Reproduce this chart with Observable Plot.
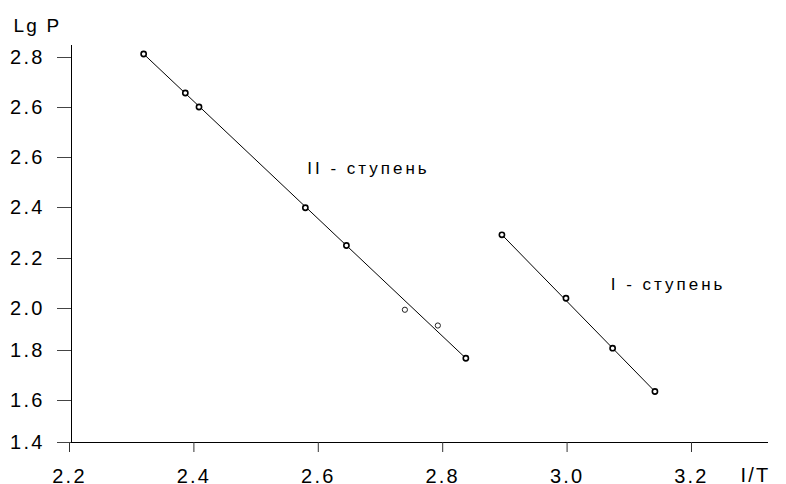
<!DOCTYPE html>
<html><head><meta charset="utf-8">
<script src="https://cdn.jsdelivr.net/npm/d3@7"></script>
<script src="https://cdn.jsdelivr.net/npm/@observablehq/plot@0.6"></script>
<style>
html,body{margin:0;padding:0;background:#fff;}
#chart svg{display:block;}
</style></head><body><div id="chart"></div>
<script>
// Stage II (II - ступень)
const stage2X = [2.316, 2.383, 2.405, 2.576, 2.642, 2.736, 2.789, 2.834];
const stage2Y = [2.807, 2.729, 2.701, 2.399, 2.251, 1.994, 1.919, 1.769];
const stage2OnLine = [true, true, true, true, true, false, false, true];
// Stage I (I - ступень)
const stage1X = [2.892, 2.995, 3.070, 3.138];
const stage1Y = [2.293, 2.041, 1.811, 1.636];
const stage1OnLine = [true, true, true, true];
// Axes
const xTicks = [2.2, 2.4, 2.6, 2.8, 3.0, 3.2];
const xTickLabels = ["2.2", "2.4", "2.6", "2.8", "3.0", "3.2"];
const yTicks = [1.4, 1.6, 1.8, 2.0, 2.2, 2.4, 2.6, 2.7, 2.8];
const yTickLabels = ["1.4", "1.6", "1.8", "2.0", "2.2", "2.4", "2.6", "2.6", "2.8"];
// the hand-drawn y axis is unevenly spaced: drawn height of each tick above the x axis
const yTickDrawn = [0, 42, 92, 134, 184, 235, 285, 335, 385];
const yAxisTitle = "Lg P";
const xAxisTitle = "I/T";
// Annotations
const noteText = ["II - ступень", "I - ступень"];
const noteX = [2.579, 3.067];
const noteY = [2.556, 2.095];

const stage2 = stage2X.map((x, i) => ({x, y: stage2Y[i], onLine: stage2OnLine[i]}));
const stage1 = stage1X.map((x, i) => ({x, y: stage1Y[i], onLine: stage1OnLine[i]}));
const fit2 = [stage2[0], stage2[stage2.length - 1]];
const fit1 = [stage1[0], stage1[stage1.length - 1]];
const notes = noteText.map((t, i) => ({t, x: noteX[i], y: noteY[i]}));
const allPts = stage2.concat(stage1);

const W = 786, H = 484;
const plotTop = 45, plotBottom = 442;
const axisLen = plotBottom - plotTop;
// piecewise mapping of Lg P onto the uneven axis
const yPiece = d3.scaleLinear().domain(yTicks).range(yTickDrawn);
const yTickPos = yTicks.map(yPiece);

const chart = Plot.plot({
  width: W, height: H,
  marginLeft: 71, marginRight: 18, marginTop: plotTop, marginBottom: H - plotBottom,
  style: {fontFamily: "'Liberation Sans', Arial, sans-serif", color: "black", background: "white"},
  x: {domain: [2.2, 3.3206]},
  y: {type: "linear", transform: v => yPiece(v), domain: [0, axisLen]},
  marks: [
    Plot.ruleX([2.2], {stroke: "black", strokeWidth: 1}),
    Plot.ruleY([1.4], {stroke: "black", strokeWidth: 1}),
    Plot.axisX({ticks: xTicks, tickSize: 10, tickPadding: 16, fontSize: 20, label: null,
      stroke: "#333", tickFormat: d => xTickLabels[xTicks.indexOf(d)], dx: -2}),
    Plot.axisY({ticks: yTickPos, tickSize: 14, tickPadding: 13, fontSize: 20, label: null,
      stroke: "#444", tickFormat: d => yTickLabels[yTickPos.indexOf(d)]}),
    Plot.text([yAxisTitle], {frameAnchor: "top-left", textAnchor: "start", lineAnchor: "middle",
      dx: -58, dy: -19.5, fontSize: 19, fill: "black"}),
    Plot.text([xAxisTitle], {frameAnchor: "bottom-right", textAnchor: "end", lineAnchor: "top",
      dx: 2, dy: 25, fontSize: 20, fill: "black"}),
    Plot.line(fit2, {x: "x", y: "y", stroke: "black", strokeWidth: 1}),
    Plot.line(fit1, {x: "x", y: "y", stroke: "black", strokeWidth: 1}),
    Plot.dot(allPts.filter(d => d.onLine), {x: "x", y: "y", r: 2.6, stroke: "black", strokeWidth: 1.6, fill: "white"}),
    Plot.dot(allPts.filter(d => !d.onLine), {x: "x", y: "y", r: 2.6, stroke: "#222", strokeWidth: 1, fill: "white"}),
    Plot.text(notes, {x: "x", y: "y", text: "t", textAnchor: "start", lineAnchor: "middle", fontSize: 17, fill: "black"})
  ]
});
document.getElementById("chart").appendChild(chart);
// letter spacing, as in the reference typography
d3.select(chart).selectAll("text").style("letter-spacing", "2.2px");
d3.select(chart).selectAll("text").filter(function(){ return /ступень/.test(this.textContent); }).style("letter-spacing", "3px");
</script>
</body></html>
